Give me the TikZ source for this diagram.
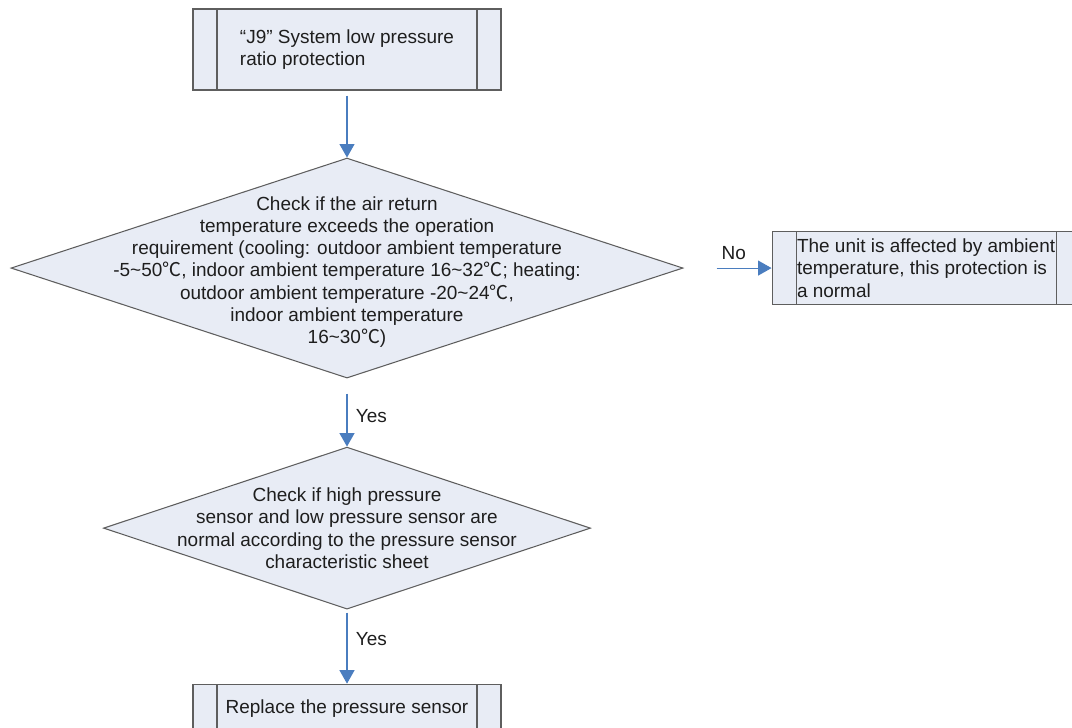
\documentclass[tikz,border=0pt]{standalone}
\usepackage{fontspec}
\setmainfont{Liberation Sans}
\newfontfamily\cjkfont{Noto Sans CJK SC}
\usetikzlibrary{shapes.geometric, arrows.meta, positioning}
\definecolor{fcFill}{HTML}{E8ECF5}
\definecolor{fcFrame}{HTML}{5E5E5E}
\definecolor{fcBlue}{HTML}{4A7DBF}
\definecolor{fcText}{HTML}{1E1E1E}
\newcommand{\flowfont}{\fontsize{10.8}{12.7}\selectfont}
\newcommand{\degC}{{\cjkfont ℃}}
\newcommand{\til}{\textasciitilde}
\tikzset{
  procbox/.style={rectangle, draw=fcFrame, fill=fcFill, line width=0.6pt,
    minimum width=6.16cm, minimum height=1.62cm, inner sep=0pt,
    align=left, font=\flowfont, text=fcText,
    path picture={\draw[fcFrame, line width=0.6pt]
      ([xshift=0.48cm]path picture bounding box.north west) -- ([xshift=0.48cm]path picture bounding box.south west)
      ([xshift=-0.48cm]path picture bounding box.north east) -- ([xshift=-0.48cm]path picture bounding box.south east);}},
  decision/.style={diamond, draw=fcFrame, fill=fcFill, line width=0.6pt, inner sep=0pt},
  decisiontext/.style={align=center, font=\flowfont, text=fcText},
  flowarrow/.style={-{Triangle[length=0.27cm, width=0.3cm]}, line width=0.6pt, fcBlue},
  arrowlabel/.style={font=\flowfont, text=fcText}
}
\begin{document}
\begin{tikzpicture}
  \path[use as bounding box, fill=white] (0,0) rectangle (21.44,-14.54);
  \node[procbox] (start) at (6.94,-0.99) {“J9” System low pressure\\ratio protection};
  \node[decision, minimum width=13.44cm, minimum height=4.4cm, below=1.34cm of start] (chk1) {};
  \node[decisiontext, yshift=-0.08cm] (chk1txt) at (chk1) {Check if the air return\\
    temperature exceeds the operation\\
    requirement (cooling: outdoor ambient temperature\\
    -5\til50\degC, indoor ambient temperature 16\til32\degC; heating:\\
    outdoor ambient temperature -20\til24\degC,\\
    indoor ambient temperature\\
    16\til30\degC)};
  \node[procbox, minimum height=1.46cm, right=1.76cm of chk1] (normal) {The unit is affected by ambient\\temperature, this protection is\\a normal};
  \node[decision, minimum width=9.74cm, minimum height=3.24cm, below=1.36cm of chk1] (chk2) {};
  \node[decisiontext] (chk2txt) at (chk2) {Check if high pressure\\
    sensor and low pressure sensor are\\
    normal according to the pressure sensor\\
    characteristic sheet};
  \node[procbox, minimum height=0.96cm, below=1.48cm of chk2] (replace) {Replace the pressure sensor};

  \draw[flowarrow, shorten <=0.1cm] (start) -- (chk1);
  \draw[flowarrow, shorten <=0.66cm] (chk1) -- node[arrowlabel, pos=0.57, above, yshift=0.3mm] {No} (normal);
  \draw[flowarrow, shorten <=0.3cm] (chk1) -- node[arrowlabel, pos=0.55, right, xshift=0.5mm] {Yes} (chk2);
  \draw[flowarrow, shorten <=0.06cm] (chk2) -- node[arrowlabel, pos=0.4, right, xshift=0.5mm] {Yes} (replace);
\end{tikzpicture}
\end{document}
